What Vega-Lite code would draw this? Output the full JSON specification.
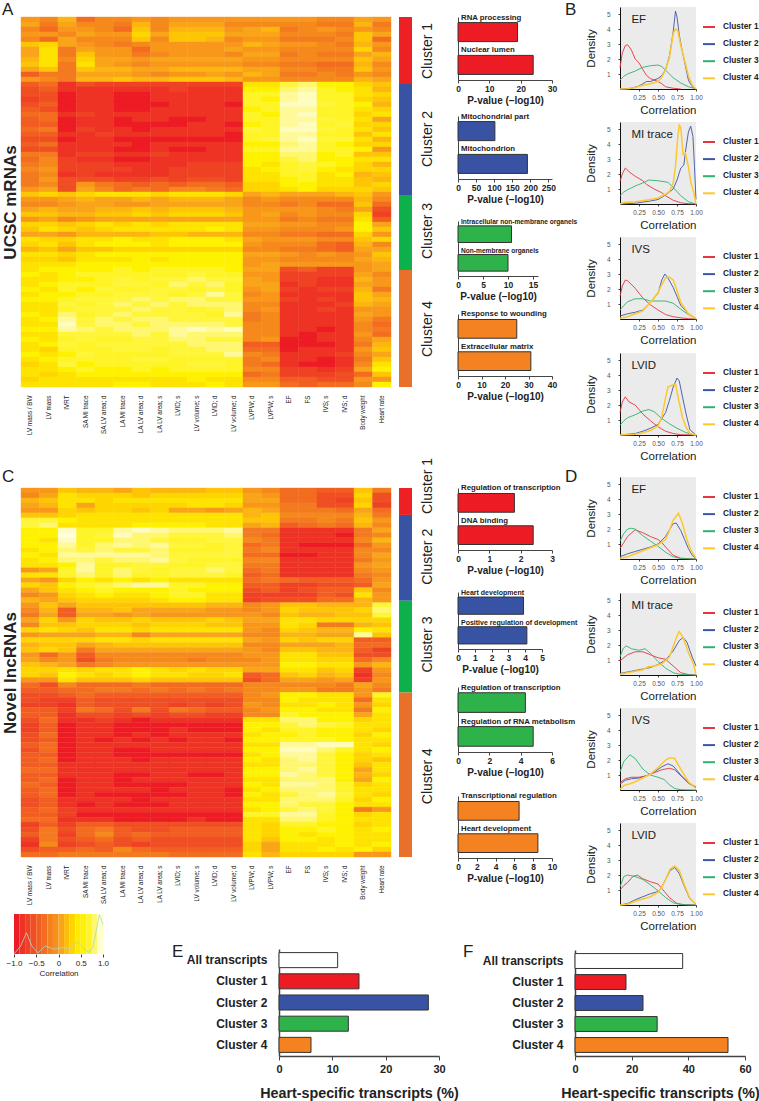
{"$schema":"https://vega.github.io/schema/vega-lite/v6.json","padding":0,"background":"white","bounds":"flush","spacing":0,
"config":{"font":"Liberation Sans","view":{"stroke":null},"axis":{"grid":false,"labelColor":"#222","titleColor":"#222","tickColor":"#444","domainColor":"#444","labelOverlap":false,"labelFlush":false},"axisX":{"labelFontWeight":"bold","labelFontSize":8.5,"titleFontWeight":"bold","titleFontSize":10,"tickSize":3,"labelPadding":1,"titlePadding":3,"labelAngle":0},"legend":{"orient":"none","legendX":82,"legendY":13,"symbolType":"stroke","symbolSize":144,"symbolStrokeWidth":2,"labelFontSize":8.3,"labelFontWeight":"bold","labelColor":"#222","labelOffset":7,"rowPadding":6.1,"padding":0},"title":{"fontWeight":"normal","fontSize":17,"anchor":"start","frame":"group","color":"#222","baseline":"top"}},
"datasets":{
"traits":[{"col":1,"trait":"LV mass / BW"},{"col":2,"trait":"LV mass"},{"col":3,"trait":"IVRT"},{"col":4,"trait":"SA MI trace"},{"col":5,"trait":"SA LV area; d"},{"col":6,"trait":"LA MI trace"},{"col":7,"trait":"LA LV area; d"},{"col":8,"trait":"LA LV area; s"},{"col":9,"trait":"LVID; s"},{"col":10,"trait":"LV volume; s"},{"col":11,"trait":"LVID; d"},{"col":12,"trait":"LV volume; d"},{"col":13,"trait":"LVPW; d"},{"col":14,"trait":"LVPW; s"},{"col":15,"trait":"EF"},{"col":16,"trait":"FS"},{"col":17,"trait":"IVS; s"},{"col":18,"trait":"IVS; d"},{"col":19,"trait":"Body weight"},{"col":20,"trait":"Heart rate"}],
"heatA":[
{"gene":1,"corr10":[-2,-3,0,-5,-3,-3,-2,-3,-2,-2,-2,-2,-2,-2,-2,-2,-3,-3,-1,-2]},{"gene":2,"corr10":[-1,-4,-1,-3,-3,-4,0,-3,-1,-1,-1,-3,-3,-3,-3,-3,-4,-4,0,-4]},{"gene":3,"corr10":[-3,-5,-2,-2,-3,-5,1,-3,0,0,0,-2,-1,0,-4,-3,-2,-3,-2,-3]},{"gene":4,"corr10":[-2,-2,-3,-1,-2,-2,2,-1,1,1,1,-1,-1,-1,-3,-3,-3,-4,1,-1]},{"gene":5,"corr10":[-3,-5,-1,-3,-3,-3,1,-3,1,1,0,-3,-2,-2,-4,-4,-4,-3,1,-5]},{"gene":6,"corr10":[1,2,-1,-2,-3,-4,-3,-2,-2,-2,-2,-2,0,-1,-2,-2,-3,-4,0,-2]},{"gene":7,"corr10":[-1,3,-4,-1,-2,-2,-5,-2,-2,-2,-2,-1,-2,-2,-3,-3,-3,-3,2,-3]},{"gene":8,"corr10":[-1,3,-4,1,-2,-2,-4,-3,-2,-2,-2,-3,-1,-1,-4,-3,-4,-4,-1,0]},{"gene":9,"corr10":[0,3,-3,2,-1,-1,-2,-1,-1,-1,-1,-1,-2,-2,-3,-3,-3,-3,1,-1]},{"gene":10,"corr10":[1,3,-4,3,-1,-2,-3,-2,-2,-2,-2,-2,-3,-3,-4,-4,-5,-5,0,-3]},{"gene":11,"corr10":[-1,1,-4,1,0,0,-1,-1,0,0,0,0,-1,-1,-3,-3,-4,-4,1,-2]},{"gene":12,"corr10":[-6,-4,-4,-1,-1,-1,-2,-3,-2,-2,-1,-2,0,-1,-4,-4,-3,-4,-2,-3]},{"gene":13,"corr10":[-2,-3,-4,0,0,1,0,0,1,1,1,0,-2,-2,-3,-3,-3,-3,0,-1]},
{"gene":14,"corr10":[-6,-5,-9,-7,-8,-8,-8,-8,-8,-8,-8,-8,3,3,6,7,4,4,2,1]},{"gene":15,"corr10":[-7,-6,-9,-9,-9,-9,-9,-9,-8,-9,-9,-9,4,4,7,8,5,4,3,0]},{"gene":16,"corr10":[-7,-7,-10,-9,-9,-10,-10,-9,-9,-9,-9,-9,5,5,8,9,5,5,3,2]},{"gene":17,"corr10":[-8,-7,-10,-9,-9,-10,-10,-9,-9,-9,-9,-9,5,4,8,9,5,5,2,1]},{"gene":18,"corr10":[-7,-6,-10,-9,-9,-10,-10,-10,-9,-9,-9,-10,5,5,9,9,6,5,4,0]},{"gene":19,"corr10":[-6,-7,-10,-9,-9,-10,-10,-9,-9,-9,-9,-9,4,5,8,8,5,5,3,2]},{"gene":20,"corr10":[-5,-5,-9,-8,-9,-9,-9,-9,-9,-9,-9,-9,5,4,8,9,5,5,2,3]},{"gene":21,"corr10":[-6,-5,-10,-9,-9,-10,-9,-9,-10,-10,-9,-9,5,5,8,8,6,5,3,-1]},{"gene":22,"corr10":[-6,-6,-10,-9,-9,-10,-10,-10,-10,-9,-9,-10,4,5,8,9,5,6,2,2]},{"gene":23,"corr10":[-5,-4,-10,-8,-9,-9,-10,-9,-9,-9,-9,-9,6,5,9,9,6,5,3,1]},{"gene":24,"corr10":[-6,-6,-9,-9,-8,-9,-9,-9,-9,-9,-9,-10,5,5,8,8,5,5,1,3]},{"gene":25,"corr10":[-7,-7,-10,-9,-9,-10,-10,-10,-10,-10,-10,-10,5,6,8,9,6,6,3,0]},{"gene":26,"corr10":[-6,-5,-9,-9,-9,-9,-10,-9,-9,-9,-9,-9,4,4,7,8,5,4,2,2]},{"gene":27,"corr10":[-7,-7,-9,-9,-9,-10,-10,-9,-10,-10,-9,-9,5,5,8,8,5,5,4,-2]},{"gene":28,"corr10":[-4,-4,-9,-8,-8,-9,-9,-8,-9,-9,-9,-9,4,4,7,7,4,5,1,1]},{"gene":29,"corr10":[-5,-3,-8,-9,-9,-10,-10,-9,-9,-9,-9,-9,4,4,6,7,4,4,3,3]},{"gene":30,"corr10":[-4,-3,-8,-8,-8,-9,-9,-9,-9,-8,-8,-8,4,3,5,6,5,4,2,0]},{"gene":31,"corr10":[-3,-2,-8,-8,-8,-8,-9,-9,-8,-8,-8,-8,3,4,5,6,4,3,2,2]},{"gene":32,"corr10":[-4,-3,-9,-8,-9,-9,-9,-9,-8,-8,-8,-8,3,3,5,5,3,4,0,1]},{"gene":33,"corr10":[-4,-2,-7,-7,-7,-8,-8,-7,-8,-7,-7,-8,3,3,4,5,3,3,1,0]},{"gene":34,"corr10":[-4,-3,-7,-2,-4,-5,-6,-5,-6,-5,-5,-6,2,2,4,4,3,3,1,2]},{"gene":35,"corr10":[-2,-1,-7,-1,-3,-5,-4,-5,-3,-3,-4,-5,2,2,3,4,2,2,2,1]},
{"gene":36,"corr10":[1,2,1,2,3,3,3,2,3,3,3,2,-1,0,-1,-1,-1,0,1,-2]},{"gene":37,"corr10":[-2,-2,-1,0,-1,-1,0,-1,0,0,0,-1,-3,-2,-3,-3,-3,-3,0,-3]},{"gene":38,"corr10":[-3,-3,-2,-1,-1,-2,-2,-1,-1,-1,-1,-1,-3,-3,-4,-3,-5,-5,1,-5]},{"gene":39,"corr10":[-1,0,-1,-1,0,0,1,0,1,1,1,0,-2,-2,-2,-2,-3,-4,-1,-7]},{"gene":40,"corr10":[1,1,0,0,1,1,2,1,2,2,2,1,-2,-1,-3,-2,-3,-3,2,-8]},{"gene":41,"corr10":[-2,-1,-3,-2,-1,-1,-1,-1,-1,-1,-1,-1,-2,-2,-4,-3,-4,-4,3,-6]},{"gene":42,"corr10":[2,2,1,2,3,2,3,2,3,3,3,3,-1,-1,-2,-2,-3,-3,4,-1]},{"gene":43,"corr10":[1,3,2,1,2,3,3,3,3,3,4,3,-2,-2,-3,-3,-3,-2,4,1]},{"gene":44,"corr10":[-1,-1,-2,0,0,0,0,1,1,0,0,0,-3,-3,-4,-4,-5,-5,2,-2]},{"gene":45,"corr10":[3,2,2,3,3,4,3,3,4,4,4,3,-1,-2,-2,-2,-3,-3,1,2]},{"gene":46,"corr10":[2,3,1,3,4,4,4,3,4,4,4,4,-2,-3,-3,-3,-5,-6,0,-3]},{"gene":47,"corr10":[0,1,-1,1,1,2,2,2,2,2,2,2,-3,-3,-4,-4,-5,-6,-1,-1]},{"gene":48,"corr10":[3,3,2,3,4,4,4,4,4,4,4,4,-1,-1,-2,-3,-2,-3,-2,1]},{"gene":49,"corr10":[2,2,1,3,3,3,4,3,4,4,4,4,-2,-2,-3,-3,-3,-3,-1,0]},{"gene":50,"corr10":[3,3,3,4,4,4,4,4,4,4,4,4,-2,-1,-2,-2,-2,-2,-2,-1]},
{"gene":51,"corr10":[3,4,4,4,4,5,4,5,5,5,5,4,-1,-1,-7,-6,-8,-8,-2,-1]},{"gene":52,"corr10":[4,3,4,5,5,5,5,5,5,6,5,5,-2,-2,-8,-8,-8,-8,-1,-3]},{"gene":53,"corr10":[3,3,4,4,5,6,5,6,6,7,6,6,-1,-2,-8,-8,-9,-9,0,-2]},{"gene":54,"corr10":[3,4,5,5,5,6,6,5,7,6,7,5,-1,-1,-9,-8,-9,-9,-1,-2]},{"gene":55,"corr10":[4,3,5,4,6,5,5,6,6,5,6,5,-2,-1,-8,-9,-8,-8,0,-4]},{"gene":56,"corr10":[3,4,4,5,5,6,6,6,5,6,8,6,-3,-2,-9,-9,-9,-9,1,-1]},{"gene":57,"corr10":[4,4,5,6,6,6,7,6,7,7,6,6,-2,-2,-8,-9,-8,-9,1,0]},{"gene":58,"corr10":[3,3,6,5,6,7,6,7,6,7,7,7,-3,-3,-9,-9,-9,-8,0,-1]},{"gene":59,"corr10":[3,3,5,6,6,6,7,6,6,5,6,7,-3,-2,-9,-9,-8,-9,-2,-2]},{"gene":60,"corr10":[4,3,7,5,6,7,6,6,6,6,5,8,-4,-3,-9,-9,-9,-9,-1,-2]},{"gene":61,"corr10":[3,4,8,6,7,6,7,7,6,6,6,6,-4,-3,-9,-9,-9,-9,-2,-4]},{"gene":62,"corr10":[3,3,9,6,7,7,6,7,7,7,7,6,-3,-3,-9,-9,-9,-9,-3,-5]},{"gene":63,"corr10":[4,4,8,7,6,7,7,7,8,9,8,9,-3,-3,-9,-9,-10,-9,-3,-4]},{"gene":64,"corr10":[3,3,6,6,6,6,7,6,8,7,7,7,-3,-3,-9,-10,-9,-9,-2,-5]},{"gene":65,"corr10":[4,3,5,6,5,5,6,6,7,7,6,6,-3,-2,-10,-10,-9,-9,-3,-1]},{"gene":66,"corr10":[3,4,6,5,6,6,6,6,6,7,7,7,-6,-6,-10,-10,-10,-9,-4,0]},{"gene":67,"corr10":[3,2,5,5,5,6,6,5,6,6,7,7,-5,-5,-10,-9,-9,-9,-2,1]},{"gene":68,"corr10":[4,3,4,6,5,5,5,5,6,6,6,8,-3,-4,-9,-9,-9,-8,-3,-1]},{"gene":69,"corr10":[3,4,5,5,5,5,6,6,5,5,5,5,-4,-3,-9,-9,-10,-9,-4,1]},{"gene":70,"corr10":[2,3,6,4,5,5,5,5,5,6,6,5,-4,-5,-9,-10,-10,-9,-3,3]},{"gene":71,"corr10":[3,3,4,5,4,4,5,4,5,5,5,5,-3,-3,-8,-8,-9,-8,-1,4]},{"gene":72,"corr10":[3,2,3,4,4,4,4,4,4,4,4,4,-5,-4,-8,-8,-8,-7,-5,1]},{"gene":73,"corr10":[2,3,3,3,3,3,3,3,3,4,3,3,-3,-3,-6,-6,-7,-7,-2,-2]},{"gene":74,"corr10":[3,3,3,3,3,4,4,3,3,3,4,3,-2,-2,-5,-6,-5,-5,-3,4]}],
"heatC":[
{"gene":1,"corr10":[-2,-2,1,0,0,-1,1,0,0,0,1,1,-2,-3,-5,-5,-6,-6,1,-4]},{"gene":2,"corr10":[-3,-1,3,2,2,2,1,2,2,2,2,2,-1,-2,-5,-5,-7,-7,2,-7]},{"gene":3,"corr10":[0,1,3,3,2,3,3,3,3,3,3,3,-1,-1,-5,-5,-7,-8,1,-7]},{"gene":4,"corr10":[-1,0,3,-1,2,2,2,2,2,3,3,2,-2,-2,-4,-4,-7,-7,2,-8]},{"gene":5,"corr10":[-2,-2,2,1,2,2,1,2,-1,-1,-2,-1,0,-1,-4,-4,-4,-5,-1,-5]},{"gene":6,"corr10":[1,1,2,3,3,3,3,3,3,3,3,3,0,1,-3,-3,-3,-3,0,-4]},{"gene":7,"corr10":[6,6,4,3,3,3,3,3,3,3,3,3,1,1,-4,-4,-3,-4,1,-2]},{"gene":8,"corr10":[6,7,3,3,3,3,4,4,4,4,3,3,-1,0,-6,-5,-4,-5,0,-3]},{"gene":9,"corr10":[4,4,9,5,5,8,9,8,7,7,7,8,-4,-4,-9,-9,-9,-9,-4,-1]},{"gene":10,"corr10":[4,4,10,5,6,9,7,7,6,6,6,7,-4,-5,-9,-9,-9,-10,-4,-3]},{"gene":11,"corr10":[4,3,9,5,5,7,7,6,5,5,6,6,-3,-4,-9,-9,-9,-9,-3,0]},{"gene":12,"corr10":[4,4,8,5,7,8,7,8,6,6,5,6,-5,-4,-9,-10,-10,-10,-5,-2]},{"gene":13,"corr10":[3,4,7,6,7,6,6,7,5,5,5,6,-4,-3,-9,-9,-9,-9,-3,-3]},{"gene":14,"corr10":[4,3,8,8,8,8,8,7,6,6,6,6,-5,-5,-10,-10,-9,-9,-3,-1]},{"gene":15,"corr10":[3,4,7,7,6,7,7,8,6,5,5,5,-3,-3,-9,-9,-9,-9,-4,-2]},{"gene":16,"corr10":[3,3,4,8,5,5,6,6,5,5,6,6,-4,-4,-9,-9,-9,-9,-2,-1]},{"gene":17,"corr10":[-2,-1,5,8,5,7,6,5,6,6,7,6,-5,-4,-9,-9,-9,-9,-3,-2]},{"gene":18,"corr10":[3,3,5,7,5,7,5,5,6,6,6,5,-6,-5,-9,-9,-9,-9,-4,-3]},{"gene":19,"corr10":[-1,-2,2,4,3,4,3,4,3,3,3,3,-5,-4,-5,-6,-6,-6,-5,-2]},{"gene":20,"corr10":[2,1,4,5,6,7,8,8,5,5,4,4,-6,-6,-8,-8,-7,-7,-6,-1]},{"gene":21,"corr10":[-1,1,3,4,5,4,4,4,5,4,4,4,-7,-6,-8,-7,-6,-6,1,-3]},{"gene":22,"corr10":[-3,-2,2,3,4,3,3,4,5,5,3,3,-8,-8,-8,-8,-6,-7,3,-2]},{"gene":23,"corr10":[0,-1,1,2,2,2,2,3,4,4,3,3,-8,-7,-7,-7,-5,-5,0,-2]},
{"gene":24,"corr10":[-2,1,-1,1,1,1,1,1,1,1,0,0,-3,-2,1,1,0,0,0,6]},{"gene":25,"corr10":[-3,0,-6,0,0,1,-1,-1,-1,-1,-2,-2,-3,-2,2,1,1,1,2,7]},{"gene":26,"corr10":[-4,-1,-6,-1,-1,-2,-1,-2,-2,-2,-2,-2,-2,-3,1,0,0,1,1,6]},{"gene":27,"corr10":[-1,2,-2,2,1,1,2,1,1,1,2,1,-1,-1,3,3,2,2,2,2]},{"gene":28,"corr10":[-3,1,1,2,2,2,1,2,2,2,1,1,-2,-2,3,2,-4,-4,0,1]},{"gene":29,"corr10":[2,3,2,1,3,3,2,3,3,3,3,3,-2,-3,2,1,0,0,4,3]},{"gene":30,"corr10":[-2,-1,-1,-1,0,0,-3,-1,-1,-1,-1,-1,-3,-3,0,0,-1,-1,8,1]},{"gene":31,"corr10":[2,2,2,2,3,3,2,3,3,3,3,3,-1,-2,2,1,2,2,-6,-6]},{"gene":32,"corr10":[0,1,1,-1,0,1,1,1,1,1,1,1,-3,-3,-1,-1,-1,0,-5,-5]},{"gene":33,"corr10":[1,2,1,-4,-1,-1,-1,-1,-1,-1,-1,-1,-2,-3,1,1,0,0,-6,-8]},{"gene":34,"corr10":[-2,-5,-2,-6,-3,-3,-3,-3,-3,-3,-3,-3,-2,-2,3,3,1,1,-7,-7]},{"gene":35,"corr10":[-1,-3,-2,-7,-4,-3,-3,-3,-3,-4,-3,-3,-3,-2,3,3,2,2,-5,-3]},{"gene":36,"corr10":[1,0,-1,-4,-3,-2,-2,-2,-2,-2,-2,-2,-2,-2,4,4,3,3,-2,0]},{"gene":37,"corr10":[2,2,3,2,3,3,4,3,2,3,2,2,-1,-1,3,3,1,2,-8,-2]},{"gene":38,"corr10":[2,1,4,3,2,3,4,3,3,2,2,3,-6,-5,1,2,0,1,-9,-3]},{"gene":39,"corr10":[-2,-2,3,1,1,1,2,1,1,1,1,1,-7,-5,-1,-1,-2,-1,-8,-2]},{"gene":40,"corr10":[-5,-7,-3,-5,-5,-5,-4,-5,-5,-5,-5,-5,-3,-3,-3,-3,-3,-4,-1,-3]},{"gene":41,"corr10":[-6,-6,-5,-5,-4,-4,-5,-4,-5,-4,-5,-4,-3,-3,-2,-2,-4,-4,-2,-4]},
{"gene":42,"corr10":[-7,-7,-6,-5,-6,-6,-6,-6,-6,-6,-6,-6,-3,-2,4,4,3,3,-2,5]},{"gene":43,"corr10":[-7,-8,-8,-6,-7,-7,-7,-7,-7,-7,-7,-7,-3,-3,4,3,3,3,-5,3]},{"gene":44,"corr10":[-8,-8,-9,-6,-7,-7,-7,-7,-8,-7,-8,-7,-2,-3,3,3,4,3,-2,2]},{"gene":45,"corr10":[-6,-6,-8,-4,-5,-7,-4,-7,-4,-5,-6,-6,-3,-2,4,4,3,3,-4,4]},{"gene":46,"corr10":[-6,-6,-9,-7,-7,-8,-7,-8,-7,-7,-8,-8,-3,-3,5,4,4,4,-1,3]},{"gene":47,"corr10":[-7,-5,-9,-9,-8,-9,-10,-9,-9,-9,-9,-9,3,3,7,7,4,4,2,3]},{"gene":48,"corr10":[-8,-6,-10,-9,-9,-10,-10,-10,-10,-10,-10,-10,4,4,6,7,6,5,3,3]},{"gene":49,"corr10":[-8,-6,-10,-9,-9,-10,-10,-10,-9,-10,-10,-10,4,3,5,5,4,4,3,2]},{"gene":50,"corr10":[-7,-5,-10,-9,-9,-10,-9,-10,-9,-9,-9,-9,3,4,4,5,4,4,2,4]},{"gene":51,"corr10":[-7,-6,-10,-9,-10,-9,-10,-9,-10,-9,-9,-10,4,4,5,5,5,4,3,3]},{"gene":52,"corr10":[-6,-5,-10,-9,-9,-9,-9,-9,-9,-9,-9,-9,3,3,8,8,9,9,3,2]},{"gene":53,"corr10":[-7,-5,-10,-9,-9,-10,-10,-9,-9,-9,-9,-9,4,4,9,9,7,5,3,4]},{"gene":54,"corr10":[-6,-6,-10,-9,-9,-10,-10,-10,-10,-10,-10,-10,3,4,8,8,6,4,2,3]},{"gene":55,"corr10":[-6,-5,-10,-9,-9,-9,-10,-9,-9,-9,-9,-9,4,3,7,8,6,4,2,1]},{"gene":56,"corr10":[-6,-6,-9,-9,-9,-9,-9,-9,-9,-9,-9,-9,3,3,7,7,6,4,1,3]},{"gene":57,"corr10":[-5,-5,-9,-9,-9,-9,-9,-9,-9,-9,-9,-9,4,4,7,8,6,4,-1,3]},{"gene":58,"corr10":[-6,-6,-9,-9,-9,-10,-10,-9,-9,-10,-10,-9,4,4,8,7,6,4,0,2]},{"gene":59,"corr10":[-6,-5,-10,-9,-9,-10,-9,-9,-9,-9,-9,-9,3,3,7,7,7,4,-1,4]},{"gene":60,"corr10":[-5,-6,-10,-9,-9,-10,-10,-10,-10,-9,-9,-9,4,3,8,8,7,5,2,3]},{"gene":61,"corr10":[-6,-5,-10,-9,-9,-9,-9,-10,-9,-9,-9,-10,3,4,7,7,7,5,3,3]},{"gene":62,"corr10":[-6,-5,-10,-9,-10,-10,-10,-10,-10,-9,-9,-10,4,3,6,7,8,6,3,2]},{"gene":63,"corr10":[-7,-6,-9,-9,-9,-9,-10,-9,-9,-9,-9,-9,3,3,7,7,7,5,2,4]},{"gene":64,"corr10":[-7,-6,-9,-10,-9,-10,-10,-10,-9,-9,-9,-9,4,4,7,6,6,4,3,3]},{"gene":65,"corr10":[-6,-5,-8,-9,-9,-9,-9,-9,-9,-9,-9,-9,3,4,6,7,6,4,-4,-2]},{"gene":66,"corr10":[-6,-6,-8,-10,-10,-10,-10,-10,-10,-10,-10,-10,5,5,8,8,5,4,2,3]},{"gene":67,"corr10":[-5,-5,-9,-9,-9,-10,-10,-10,-10,-9,-10,-10,3,3,7,7,5,4,3,3]},{"gene":68,"corr10":[-8,-6,-8,-6,-6,-7,-7,-7,-7,-7,-7,-7,3,2,5,5,4,4,2,3]},{"gene":69,"corr10":[-7,-4,-7,-5,-4,-6,-7,-7,-6,-6,-6,-6,3,2,4,4,5,4,3,4]},{"gene":70,"corr10":[-6,-4,-8,-5,-3,-6,-5,-6,-6,-6,-6,-6,3,2,4,3,4,4,3,3]},{"gene":71,"corr10":[-8,-4,-7,-6,-5,-7,-6,-7,-7,-7,-7,-7,3,1,4,4,3,4,3,3]},{"gene":72,"corr10":[-9,-3,-8,-7,-6,-7,-8,-7,-7,-7,-7,-7,2,-1,3,3,3,4,3,4]},{"gene":73,"corr10":[-7,-6,-6,-5,-6,-3,-5,-6,-6,-6,-6,-6,2,-1,3,3,4,3,4,2]},{"gene":74,"corr10":[-5,-5,-4,-4,-4,-4,-4,-4,-5,-5,-5,-5,3,0,2,2,2,2,-2,-2]}],
"density":[
{"p":"BEF","c":1,"x":0,"y":1.4},{"p":"BEF","c":1,"x":0.03,"y":2.4},{"p":"BEF","c":1,"x":0.07,"y":2.9},{"p":"BEF","c":1,"x":0.1,"y":2.95},{"p":"BEF","c":1,"x":0.15,"y":2.6},{"p":"BEF","c":1,"x":0.2,"y":2},{"p":"BEF","c":1,"x":0.25,"y":1.75},{"p":"BEF","c":1,"x":0.3,"y":1.3},{"p":"BEF","c":1,"x":0.35,"y":0.9},{"p":"BEF","c":1,"x":0.4,"y":0.7},{"p":"BEF","c":1,"x":0.5,"y":0.5},{"p":"BEF","c":1,"x":0.55,"y":0.35},{"p":"BEF","c":1,"x":0.6,"y":0.15},{"p":"BEF","c":1,"x":0.7,"y":0.05},{"p":"BEF","c":1,"x":0.8,"y":0},
{"p":"BEF","c":2,"x":0,"y":0},{"p":"BEF","c":2,"x":0.15,"y":0.05},{"p":"BEF","c":2,"x":0.25,"y":0.2},{"p":"BEF","c":2,"x":0.3,"y":0.35},{"p":"BEF","c":2,"x":0.35,"y":0.5},{"p":"BEF","c":2,"x":0.4,"y":0.5},{"p":"BEF","c":2,"x":0.45,"y":0.6},{"p":"BEF","c":2,"x":0.5,"y":0.7},{"p":"BEF","c":2,"x":0.55,"y":0.9},{"p":"BEF","c":2,"x":0.6,"y":1.3},{"p":"BEF","c":2,"x":0.65,"y":2.2},{"p":"BEF","c":2,"x":0.7,"y":3.8},{"p":"BEF","c":2,"x":0.73,"y":5.2},{"p":"BEF","c":2,"x":0.75,"y":4.8},{"p":"BEF","c":2,"x":0.78,"y":3.6},{"p":"BEF","c":2,"x":0.82,"y":2.5},{"p":"BEF","c":2,"x":0.85,"y":1.8},{"p":"BEF","c":2,"x":0.9,"y":0.6},{"p":"BEF","c":2,"x":0.95,"y":0.15},{"p":"BEF","c":2,"x":1,"y":0},
{"p":"BEF","c":3,"x":0,"y":0.6},{"p":"BEF","c":3,"x":0.05,"y":0.85},{"p":"BEF","c":3,"x":0.1,"y":1},{"p":"BEF","c":3,"x":0.2,"y":1.2},{"p":"BEF","c":3,"x":0.3,"y":1.45},{"p":"BEF","c":3,"x":0.4,"y":1.55},{"p":"BEF","c":3,"x":0.5,"y":1.6},{"p":"BEF","c":3,"x":0.55,"y":1.5},{"p":"BEF","c":3,"x":0.6,"y":1.25},{"p":"BEF","c":3,"x":0.65,"y":1},{"p":"BEF","c":3,"x":0.7,"y":0.75},{"p":"BEF","c":3,"x":0.8,"y":0.4},{"p":"BEF","c":3,"x":0.9,"y":0.15},{"p":"BEF","c":3,"x":1,"y":0.02},
{"p":"BEF","c":4,"x":0,"y":0},{"p":"BEF","c":4,"x":0.1,"y":0.02},{"p":"BEF","c":4,"x":0.2,"y":0.1},{"p":"BEF","c":4,"x":0.3,"y":0.25},{"p":"BEF","c":4,"x":0.4,"y":0.35},{"p":"BEF","c":4,"x":0.5,"y":0.5},{"p":"BEF","c":4,"x":0.55,"y":0.8},{"p":"BEF","c":4,"x":0.6,"y":1.3},{"p":"BEF","c":4,"x":0.65,"y":2.1},{"p":"BEF","c":4,"x":0.7,"y":3.7},{"p":"BEF","c":4,"x":0.73,"y":4},{"p":"BEF","c":4,"x":0.76,"y":3.9},{"p":"BEF","c":4,"x":0.8,"y":2.9},{"p":"BEF","c":4,"x":0.85,"y":1.9},{"p":"BEF","c":4,"x":0.9,"y":0.9},{"p":"BEF","c":4,"x":0.95,"y":0.25},{"p":"BEF","c":4,"x":1,"y":0},
{"p":"BMI","c":1,"x":0,"y":1.5},{"p":"BMI","c":1,"x":0.03,"y":2},{"p":"BMI","c":1,"x":0.07,"y":2.4},{"p":"BMI","c":1,"x":0.12,"y":2.15},{"p":"BMI","c":1,"x":0.2,"y":1.85},{"p":"BMI","c":1,"x":0.3,"y":1.55},{"p":"BMI","c":1,"x":0.35,"y":1.3},{"p":"BMI","c":1,"x":0.45,"y":1},{"p":"BMI","c":1,"x":0.55,"y":0.75},{"p":"BMI","c":1,"x":0.6,"y":0.55},{"p":"BMI","c":1,"x":0.7,"y":0.25},{"p":"BMI","c":1,"x":0.8,"y":0.08},{"p":"BMI","c":1,"x":0.9,"y":0.02},{"p":"BMI","c":1,"x":1,"y":0},
{"p":"BMI","c":2,"x":0,"y":0},{"p":"BMI","c":2,"x":0.2,"y":0.05},{"p":"BMI","c":2,"x":0.4,"y":0.2},{"p":"BMI","c":2,"x":0.5,"y":0.3},{"p":"BMI","c":2,"x":0.6,"y":0.6},{"p":"BMI","c":2,"x":0.65,"y":0.8},{"p":"BMI","c":2,"x":0.7,"y":1},{"p":"BMI","c":2,"x":0.75,"y":1.6},{"p":"BMI","c":2,"x":0.8,"y":2.4},{"p":"BMI","c":2,"x":0.84,"y":2.6},{"p":"BMI","c":2,"x":0.87,"y":3.8},{"p":"BMI","c":2,"x":0.9,"y":4.8},{"p":"BMI","c":2,"x":0.93,"y":5.2},{"p":"BMI","c":2,"x":0.96,"y":4.5},{"p":"BMI","c":2,"x":0.98,"y":2.5},{"p":"BMI","c":2,"x":1,"y":0.3},
{"p":"BMI","c":3,"x":0,"y":0.55},{"p":"BMI","c":3,"x":0.05,"y":0.8},{"p":"BMI","c":3,"x":0.1,"y":0.95},{"p":"BMI","c":3,"x":0.2,"y":1.2},{"p":"BMI","c":3,"x":0.3,"y":1.4},{"p":"BMI","c":3,"x":0.38,"y":1.6},{"p":"BMI","c":3,"x":0.5,"y":1.55},{"p":"BMI","c":3,"x":0.63,"y":1.45},{"p":"BMI","c":3,"x":0.7,"y":1.1},{"p":"BMI","c":3,"x":0.8,"y":0.55},{"p":"BMI","c":3,"x":0.9,"y":0.15},{"p":"BMI","c":3,"x":1,"y":0},
{"p":"BMI","c":4,"x":0,"y":0},{"p":"BMI","c":4,"x":0.05,"y":0.1},{"p":"BMI","c":4,"x":0.2,"y":0.15},{"p":"BMI","c":4,"x":0.4,"y":0.3},{"p":"BMI","c":4,"x":0.5,"y":0.4},{"p":"BMI","c":4,"x":0.6,"y":0.65},{"p":"BMI","c":4,"x":0.65,"y":0.85},{"p":"BMI","c":4,"x":0.7,"y":1.4},{"p":"BMI","c":4,"x":0.73,"y":2.5},{"p":"BMI","c":4,"x":0.76,"y":4.5},{"p":"BMI","c":4,"x":0.78,"y":5.25},{"p":"BMI","c":4,"x":0.8,"y":5.1},{"p":"BMI","c":4,"x":0.83,"y":3.3},{"p":"BMI","c":4,"x":0.86,"y":3.4},{"p":"BMI","c":4,"x":0.9,"y":2.5},{"p":"BMI","c":4,"x":0.93,"y":1.5},{"p":"BMI","c":4,"x":0.97,"y":0.8},{"p":"BMI","c":4,"x":1,"y":0},
{"p":"BIV","c":1,"x":0,"y":1.5},{"p":"BIV","c":1,"x":0.03,"y":2.2},{"p":"BIV","c":1,"x":0.07,"y":2.6},{"p":"BIV","c":1,"x":0.1,"y":2.55},{"p":"BIV","c":1,"x":0.2,"y":2.05},{"p":"BIV","c":1,"x":0.3,"y":1.4},{"p":"BIV","c":1,"x":0.4,"y":0.95},{"p":"BIV","c":1,"x":0.5,"y":0.6},{"p":"BIV","c":1,"x":0.6,"y":0.3},{"p":"BIV","c":1,"x":0.7,"y":0.15},{"p":"BIV","c":1,"x":0.8,"y":0.08},{"p":"BIV","c":1,"x":0.9,"y":0.02},{"p":"BIV","c":1,"x":1,"y":0},
{"p":"BIV","c":2,"x":0,"y":0.2},{"p":"BIV","c":2,"x":0.1,"y":0.35},{"p":"BIV","c":2,"x":0.2,"y":0.45},{"p":"BIV","c":2,"x":0.3,"y":0.6},{"p":"BIV","c":2,"x":0.4,"y":1.1},{"p":"BIV","c":2,"x":0.5,"y":1.7},{"p":"BIV","c":2,"x":0.55,"y":2.6},{"p":"BIV","c":2,"x":0.59,"y":3},{"p":"BIV","c":2,"x":0.63,"y":2.75},{"p":"BIV","c":2,"x":0.7,"y":2.1},{"p":"BIV","c":2,"x":0.75,"y":1.5},{"p":"BIV","c":2,"x":0.8,"y":0.9},{"p":"BIV","c":2,"x":0.9,"y":0.35},{"p":"BIV","c":2,"x":1,"y":0.02},
{"p":"BIV","c":3,"x":0,"y":0.6},{"p":"BIV","c":3,"x":0.05,"y":0.9},{"p":"BIV","c":3,"x":0.1,"y":1.15},{"p":"BIV","c":3,"x":0.2,"y":1.35},{"p":"BIV","c":3,"x":0.3,"y":1.35},{"p":"BIV","c":3,"x":0.4,"y":1.2},{"p":"BIV","c":3,"x":0.5,"y":1.2},{"p":"BIV","c":3,"x":0.6,"y":1.2},{"p":"BIV","c":3,"x":0.7,"y":1.05},{"p":"BIV","c":3,"x":0.8,"y":0.65},{"p":"BIV","c":3,"x":0.9,"y":0.3},{"p":"BIV","c":3,"x":1,"y":0.02},
{"p":"BIV","c":4,"x":0,"y":0.05},{"p":"BIV","c":4,"x":0.1,"y":0.15},{"p":"BIV","c":4,"x":0.2,"y":0.35},{"p":"BIV","c":4,"x":0.3,"y":0.55},{"p":"BIV","c":4,"x":0.4,"y":1.1},{"p":"BIV","c":4,"x":0.5,"y":1.75},{"p":"BIV","c":4,"x":0.55,"y":2.3},{"p":"BIV","c":4,"x":0.6,"y":2.75},{"p":"BIV","c":4,"x":0.65,"y":2.8},{"p":"BIV","c":4,"x":0.7,"y":2.6},{"p":"BIV","c":4,"x":0.75,"y":1.9},{"p":"BIV","c":4,"x":0.8,"y":1.1},{"p":"BIV","c":4,"x":0.9,"y":0.35},{"p":"BIV","c":4,"x":1,"y":0.02},
{"p":"BLV","c":1,"x":0,"y":1.5},{"p":"BLV","c":1,"x":0.03,"y":2.2},{"p":"BLV","c":1,"x":0.07,"y":2.55},{"p":"BLV","c":1,"x":0.12,"y":2.2},{"p":"BLV","c":1,"x":0.2,"y":2},{"p":"BLV","c":1,"x":0.3,"y":1.4},{"p":"BLV","c":1,"x":0.4,"y":0.95},{"p":"BLV","c":1,"x":0.5,"y":0.55},{"p":"BLV","c":1,"x":0.6,"y":0.25},{"p":"BLV","c":1,"x":0.7,"y":0.1},{"p":"BLV","c":1,"x":0.8,"y":0.02},{"p":"BLV","c":1,"x":1,"y":0},
{"p":"BLV","c":2,"x":0,"y":0},{"p":"BLV","c":2,"x":0.2,"y":0.1},{"p":"BLV","c":2,"x":0.3,"y":0.25},{"p":"BLV","c":2,"x":0.4,"y":0.45},{"p":"BLV","c":2,"x":0.5,"y":0.7},{"p":"BLV","c":2,"x":0.55,"y":1.1},{"p":"BLV","c":2,"x":0.6,"y":1.5},{"p":"BLV","c":2,"x":0.65,"y":2.3},{"p":"BLV","c":2,"x":0.7,"y":3.2},{"p":"BLV","c":2,"x":0.75,"y":3.8},{"p":"BLV","c":2,"x":0.78,"y":3.6},{"p":"BLV","c":2,"x":0.82,"y":2.6},{"p":"BLV","c":2,"x":0.87,"y":1.4},{"p":"BLV","c":2,"x":0.92,"y":0.35},{"p":"BLV","c":2,"x":1,"y":0},
{"p":"BLV","c":3,"x":0,"y":0.65},{"p":"BLV","c":3,"x":0.05,"y":0.95},{"p":"BLV","c":3,"x":0.1,"y":1.15},{"p":"BLV","c":3,"x":0.2,"y":1.35},{"p":"BLV","c":3,"x":0.3,"y":1.6},{"p":"BLV","c":3,"x":0.38,"y":1.7},{"p":"BLV","c":3,"x":0.45,"y":1.55},{"p":"BLV","c":3,"x":0.55,"y":1.1},{"p":"BLV","c":3,"x":0.65,"y":0.75},{"p":"BLV","c":3,"x":0.75,"y":0.45},{"p":"BLV","c":3,"x":0.85,"y":0.2},{"p":"BLV","c":3,"x":0.95,"y":0.02},{"p":"BLV","c":3,"x":1,"y":0},
{"p":"BLV","c":4,"x":0,"y":0},{"p":"BLV","c":4,"x":0.2,"y":0.05},{"p":"BLV","c":4,"x":0.3,"y":0.15},{"p":"BLV","c":4,"x":0.4,"y":0.3},{"p":"BLV","c":4,"x":0.5,"y":0.6},{"p":"BLV","c":4,"x":0.55,"y":1.2},{"p":"BLV","c":4,"x":0.6,"y":2.5},{"p":"BLV","c":4,"x":0.63,"y":3.2},{"p":"BLV","c":4,"x":0.7,"y":3.35},{"p":"BLV","c":4,"x":0.73,"y":3.4},{"p":"BLV","c":4,"x":0.77,"y":2.4},{"p":"BLV","c":4,"x":0.82,"y":1.2},{"p":"BLV","c":4,"x":0.87,"y":0.5},{"p":"BLV","c":4,"x":0.92,"y":0.1},{"p":"BLV","c":4,"x":1,"y":0},
{"p":"DEF","c":1,"x":0,"y":0.7},{"p":"DEF","c":1,"x":0.05,"y":1.1},{"p":"DEF","c":1,"x":0.1,"y":1.5},{"p":"DEF","c":1,"x":0.2,"y":1.95},{"p":"DEF","c":1,"x":0.3,"y":1.75},{"p":"DEF","c":1,"x":0.4,"y":1.5},{"p":"DEF","c":1,"x":0.5,"y":1.3},{"p":"DEF","c":1,"x":0.55,"y":1.1},{"p":"DEF","c":1,"x":0.6,"y":0.8},{"p":"DEF","c":1,"x":0.7,"y":0.25},{"p":"DEF","c":1,"x":0.8,"y":0.05},{"p":"DEF","c":1,"x":1,"y":0},
{"p":"DEF","c":2,"x":0,"y":0.15},{"p":"DEF","c":2,"x":0.1,"y":0.35},{"p":"DEF","c":2,"x":0.2,"y":0.5},{"p":"DEF","c":2,"x":0.3,"y":0.65},{"p":"DEF","c":2,"x":0.4,"y":0.8},{"p":"DEF","c":2,"x":0.5,"y":1},{"p":"DEF","c":2,"x":0.6,"y":1.5},{"p":"DEF","c":2,"x":0.65,"y":1.95},{"p":"DEF","c":2,"x":0.7,"y":2.35},{"p":"DEF","c":2,"x":0.74,"y":2.4},{"p":"DEF","c":2,"x":0.8,"y":1.9},{"p":"DEF","c":2,"x":0.85,"y":1.3},{"p":"DEF","c":2,"x":0.9,"y":0.7},{"p":"DEF","c":2,"x":0.95,"y":0.25},{"p":"DEF","c":2,"x":1,"y":0.02},
{"p":"DEF","c":3,"x":0,"y":1.2},{"p":"DEF","c":3,"x":0.05,"y":1.7},{"p":"DEF","c":3,"x":0.1,"y":2},{"p":"DEF","c":3,"x":0.15,"y":2.05},{"p":"DEF","c":3,"x":0.2,"y":2},{"p":"DEF","c":3,"x":0.3,"y":1.55},{"p":"DEF","c":3,"x":0.4,"y":1.2},{"p":"DEF","c":3,"x":0.5,"y":0.85},{"p":"DEF","c":3,"x":0.6,"y":0.45},{"p":"DEF","c":3,"x":0.7,"y":0.15},{"p":"DEF","c":3,"x":0.8,"y":0.03},{"p":"DEF","c":3,"x":1,"y":0},
{"p":"DEF","c":4,"x":0,"y":0.05},{"p":"DEF","c":4,"x":0.1,"y":0.15},{"p":"DEF","c":4,"x":0.2,"y":0.35},{"p":"DEF","c":4,"x":0.3,"y":0.55},{"p":"DEF","c":4,"x":0.4,"y":0.75},{"p":"DEF","c":4,"x":0.5,"y":0.95},{"p":"DEF","c":4,"x":0.6,"y":1.3},{"p":"DEF","c":4,"x":0.65,"y":1.9},{"p":"DEF","c":4,"x":0.7,"y":2.6},{"p":"DEF","c":4,"x":0.77,"y":3.05},{"p":"DEF","c":4,"x":0.82,"y":2.4},{"p":"DEF","c":4,"x":0.88,"y":1.3},{"p":"DEF","c":4,"x":0.93,"y":0.6},{"p":"DEF","c":4,"x":1,"y":0.05},
{"p":"DMI","c":1,"x":0,"y":0.95},{"p":"DMI","c":1,"x":0.1,"y":1.35},{"p":"DMI","c":1,"x":0.2,"y":1.55},{"p":"DMI","c":1,"x":0.3,"y":1.55},{"p":"DMI","c":1,"x":0.4,"y":1.35},{"p":"DMI","c":1,"x":0.5,"y":1.15},{"p":"DMI","c":1,"x":0.6,"y":1.05},{"p":"DMI","c":1,"x":0.7,"y":0.6},{"p":"DMI","c":1,"x":0.8,"y":0.15},{"p":"DMI","c":1,"x":0.9,"y":0.03},{"p":"DMI","c":1,"x":1,"y":0},
{"p":"DMI","c":2,"x":0,"y":0.1},{"p":"DMI","c":2,"x":0.1,"y":0.2},{"p":"DMI","c":2,"x":0.2,"y":0.3},{"p":"DMI","c":2,"x":0.3,"y":0.4},{"p":"DMI","c":2,"x":0.4,"y":0.5},{"p":"DMI","c":2,"x":0.5,"y":0.7},{"p":"DMI","c":2,"x":0.6,"y":1},{"p":"DMI","c":2,"x":0.7,"y":1.6},{"p":"DMI","c":2,"x":0.78,"y":2.3},{"p":"DMI","c":2,"x":0.83,"y":2.5},{"p":"DMI","c":2,"x":0.88,"y":2.2},{"p":"DMI","c":2,"x":0.95,"y":1.2},{"p":"DMI","c":2,"x":1,"y":0.6},
{"p":"DMI","c":3,"x":0,"y":1.2},{"p":"DMI","c":3,"x":0.04,"y":1.75},{"p":"DMI","c":3,"x":0.08,"y":1.95},{"p":"DMI","c":3,"x":0.15,"y":1.75},{"p":"DMI","c":3,"x":0.25,"y":1.65},{"p":"DMI","c":3,"x":0.33,"y":1.75},{"p":"DMI","c":3,"x":0.4,"y":1.45},{"p":"DMI","c":3,"x":0.5,"y":0.9},{"p":"DMI","c":3,"x":0.6,"y":0.45},{"p":"DMI","c":3,"x":0.7,"y":0.15},{"p":"DMI","c":3,"x":0.8,"y":0.03},{"p":"DMI","c":3,"x":1,"y":0},
{"p":"DMI","c":4,"x":0,"y":0.05},{"p":"DMI","c":4,"x":0.1,"y":0.15},{"p":"DMI","c":4,"x":0.2,"y":0.25},{"p":"DMI","c":4,"x":0.3,"y":0.35},{"p":"DMI","c":4,"x":0.37,"y":0.55},{"p":"DMI","c":4,"x":0.45,"y":0.6},{"p":"DMI","c":4,"x":0.55,"y":0.75},{"p":"DMI","c":4,"x":0.65,"y":1.2},{"p":"DMI","c":4,"x":0.7,"y":1.9},{"p":"DMI","c":4,"x":0.75,"y":2.6},{"p":"DMI","c":4,"x":0.78,"y":2.9},{"p":"DMI","c":4,"x":0.83,"y":2.5},{"p":"DMI","c":4,"x":0.9,"y":1.5},{"p":"DMI","c":4,"x":0.97,"y":0.7},{"p":"DMI","c":4,"x":1,"y":0.02},
{"p":"DIV","c":1,"x":0,"y":0.5},{"p":"DIV","c":1,"x":0.07,"y":0.75},{"p":"DIV","c":1,"x":0.15,"y":0.85},{"p":"DIV","c":1,"x":0.25,"y":0.85},{"p":"DIV","c":1,"x":0.35,"y":0.95},{"p":"DIV","c":1,"x":0.45,"y":1.15},{"p":"DIV","c":1,"x":0.55,"y":1.35},{"p":"DIV","c":1,"x":0.65,"y":1.45},{"p":"DIV","c":1,"x":0.72,"y":1.35},{"p":"DIV","c":1,"x":0.8,"y":0.95},{"p":"DIV","c":1,"x":0.9,"y":0.5},{"p":"DIV","c":1,"x":1,"y":0.2},
{"p":"DIV","c":2,"x":0,"y":0.4},{"p":"DIV","c":2,"x":0.07,"y":0.65},{"p":"DIV","c":2,"x":0.15,"y":0.75},{"p":"DIV","c":2,"x":0.25,"y":0.8},{"p":"DIV","c":2,"x":0.35,"y":0.95},{"p":"DIV","c":2,"x":0.45,"y":1.2},{"p":"DIV","c":2,"x":0.55,"y":1.55},{"p":"DIV","c":2,"x":0.63,"y":1.75},{"p":"DIV","c":2,"x":0.7,"y":1.6},{"p":"DIV","c":2,"x":0.8,"y":1},{"p":"DIV","c":2,"x":0.9,"y":0.45},{"p":"DIV","c":2,"x":1,"y":0.15},
{"p":"DIV","c":3,"x":0,"y":1.2},{"p":"DIV","c":3,"x":0.05,"y":1.9},{"p":"DIV","c":3,"x":0.13,"y":2.35},{"p":"DIV","c":3,"x":0.2,"y":2.1},{"p":"DIV","c":3,"x":0.3,"y":1.4},{"p":"DIV","c":3,"x":0.4,"y":1},{"p":"DIV","c":3,"x":0.5,"y":0.85},{"p":"DIV","c":3,"x":0.58,"y":0.7},{"p":"DIV","c":3,"x":0.65,"y":0.35},{"p":"DIV","c":3,"x":0.72,"y":0.1},{"p":"DIV","c":3,"x":0.8,"y":0.02},{"p":"DIV","c":3,"x":1,"y":0},
{"p":"DIV","c":4,"x":0,"y":0.05},{"p":"DIV","c":4,"x":0.05,"y":0.3},{"p":"DIV","c":4,"x":0.12,"y":0.4},{"p":"DIV","c":4,"x":0.2,"y":0.55},{"p":"DIV","c":4,"x":0.3,"y":0.8},{"p":"DIV","c":4,"x":0.4,"y":1.05},{"p":"DIV","c":4,"x":0.5,"y":1.5},{"p":"DIV","c":4,"x":0.6,"y":2},{"p":"DIV","c":4,"x":0.65,"y":2.15},{"p":"DIV","c":4,"x":0.72,"y":2.1},{"p":"DIV","c":4,"x":0.8,"y":1.4},{"p":"DIV","c":4,"x":0.9,"y":0.55},{"p":"DIV","c":4,"x":1,"y":0.1},
{"p":"DLV","c":1,"x":0,"y":1},{"p":"DLV","c":1,"x":0.05,"y":1.3},{"p":"DLV","c":1,"x":0.1,"y":1.5},{"p":"DLV","c":1,"x":0.17,"y":1.9},{"p":"DLV","c":1,"x":0.23,"y":2},{"p":"DLV","c":1,"x":0.3,"y":1.75},{"p":"DLV","c":1,"x":0.4,"y":1.55},{"p":"DLV","c":1,"x":0.5,"y":1.4},{"p":"DLV","c":1,"x":0.55,"y":1.1},{"p":"DLV","c":1,"x":0.65,"y":0.5},{"p":"DLV","c":1,"x":0.75,"y":0.1},{"p":"DLV","c":1,"x":0.85,"y":0.02},{"p":"DLV","c":1,"x":1,"y":0},
{"p":"DLV","c":2,"x":0,"y":0},{"p":"DLV","c":2,"x":0.1,"y":0.1},{"p":"DLV","c":2,"x":0.2,"y":0.35},{"p":"DLV","c":2,"x":0.3,"y":0.55},{"p":"DLV","c":2,"x":0.4,"y":0.75},{"p":"DLV","c":2,"x":0.5,"y":0.9},{"p":"DLV","c":2,"x":0.55,"y":1.2},{"p":"DLV","c":2,"x":0.6,"y":1.7},{"p":"DLV","c":2,"x":0.66,"y":2.3},{"p":"DLV","c":2,"x":0.72,"y":2.5},{"p":"DLV","c":2,"x":0.78,"y":2.1},{"p":"DLV","c":2,"x":0.85,"y":1.2},{"p":"DLV","c":2,"x":0.92,"y":0.4},{"p":"DLV","c":2,"x":1,"y":0.05},
{"p":"DLV","c":3,"x":0,"y":1.2},{"p":"DLV","c":3,"x":0.05,"y":1.9},{"p":"DLV","c":3,"x":0.1,"y":2},{"p":"DLV","c":3,"x":0.2,"y":1.9},{"p":"DLV","c":3,"x":0.3,"y":1.7},{"p":"DLV","c":3,"x":0.4,"y":1.35},{"p":"DLV","c":3,"x":0.5,"y":0.95},{"p":"DLV","c":3,"x":0.6,"y":0.5},{"p":"DLV","c":3,"x":0.7,"y":0.15},{"p":"DLV","c":3,"x":0.8,"y":0.03},{"p":"DLV","c":3,"x":1,"y":0},
{"p":"DLV","c":4,"x":0,"y":0},{"p":"DLV","c":4,"x":0.1,"y":0.05},{"p":"DLV","c":4,"x":0.2,"y":0.25},{"p":"DLV","c":4,"x":0.3,"y":0.4},{"p":"DLV","c":4,"x":0.4,"y":0.55},{"p":"DLV","c":4,"x":0.5,"y":0.85},{"p":"DLV","c":4,"x":0.55,"y":1.2},{"p":"DLV","c":4,"x":0.6,"y":1.7},{"p":"DLV","c":4,"x":0.66,"y":2.4},{"p":"DLV","c":4,"x":0.72,"y":2.6},{"p":"DLV","c":4,"x":0.78,"y":2.3},{"p":"DLV","c":4,"x":0.85,"y":1.3},{"p":"DLV","c":4,"x":0.92,"y":0.45},{"p":"DLV","c":4,"x":1,"y":0.05}]
},
"vconcat":[
{"bounds":"flush","spacing":0,"hconcat":[
{"width":21,"height":1,"data":{"values":[]},"mark":"point","encoding":{}},
{"bounds":"flush","spacing":0,"vconcat":[
{"width":370,"height":16,"data":{"values":[]},"mark":"point","encoding":{}},
{"width":370,"height":370,"title":{"text":"A","dx":-19,"offset":-2},"data":{"name":"heatA"},"transform":[{"flatten":["corr10"]},{"window":[{"op":"row_number","as":"col"}],"groupby":["gene"]},{"lookup":"col","from":{"data":{"name":"traits"},"key":"col","fields":["trait"]}}],"mark":{"type":"rect","strokeWidth":0.4},"encoding":{"x":{"field":"trait","type":"nominal","sort":{"field":"col","op":"min"},"scale":{"paddingInner":0,"paddingOuter":0},"axis":{"title":null,"ticks":false,"domain":false,"labelAngle":270,"labelAlign":"right","labelBaseline":"middle","labelFontSize":6.3,"labelFontWeight":"normal","labelPadding":8,"labelLimit":0}},"y":{"field":"gene","type":"ordinal","scale":{"paddingInner":0,"paddingOuter":0},"axis":{"title":"UCSC mRNAs","labels":false,"ticks":false,"domain":false,"titleFontSize":17,"titleFontWeight":"bold","titlePadding":2}},"fill":{"field":"corr10","type":"quantitative","legend":null,"scale":{"domain":[-10,-7,-4,-1,2,4,6,8,10],"range":["#ed1c24","#f04e23","#f47a20","#f9a51a","#ffd500","#fff200","#fff53a","#fff99a","#ffffe0"]}},"stroke":{"field":"corr10","type":"quantitative","legend":null,"scale":{"domain":[-10,-7,-4,-1,2,4,6,8,10],"range":["#ed1c24","#f04e23","#f47a20","#f9a51a","#ffd500","#fff200","#fff53a","#fff99a","#ffffe0"]}}}},
{"width":370,"height":101,"data":{"values":[]},"mark":"point","encoding":{}},
{"width":370,"height":369,"title":{"text":"C","dx":-19,"offset":2},"data":{"name":"heatC"},"transform":[{"flatten":["corr10"]},{"window":[{"op":"row_number","as":"col"}],"groupby":["gene"]},{"lookup":"col","from":{"data":{"name":"traits"},"key":"col","fields":["trait"]}}],"mark":{"type":"rect","strokeWidth":0.4},"encoding":{"x":{"field":"trait","type":"nominal","sort":{"field":"col","op":"min"},"scale":{"paddingInner":0,"paddingOuter":0},"axis":{"title":null,"ticks":false,"domain":false,"labelAngle":270,"labelAlign":"right","labelBaseline":"middle","labelFontSize":6.3,"labelFontWeight":"normal","labelPadding":8,"labelLimit":0}},"y":{"field":"gene","type":"ordinal","scale":{"paddingInner":0,"paddingOuter":0},"axis":{"title":"Novel lncRNAs","labels":false,"ticks":false,"domain":false,"titleFontSize":17,"titleFontWeight":"bold","titlePadding":2}},"fill":{"field":"corr10","type":"quantitative","legend":null,"scale":{"domain":[-10,-7,-4,-1,2,4,6,8,10],"range":["#ed1c24","#f04e23","#f47a20","#f9a51a","#ffd500","#fff200","#fff53a","#fff99a","#ffffe0"]}},"stroke":{"field":"corr10","type":"quantitative","legend":null,"scale":{"domain":[-10,-7,-4,-1,2,4,6,8,10],"range":["#ed1c24","#f04e23","#f47a20","#f9a51a","#ffd500","#fff200","#fff53a","#fff99a","#ffffe0"]}}}}
]},
{"width":378,"height":1,"data":{"values":[]},"mark":"point","encoding":{}},
{"bounds":"flush","spacing":0,"vconcat":[
{"width":13,"height":16,"data":{"values":[]},"mark":"point","encoding":{}},
{"width":13,"height":370,"data":{"values":[{"cluster":"Cluster 1","first":0,"last":13.4,"labelAt":6.8},{"cluster":"Cluster 2","first":13.4,"last":35.6,"labelAt":24.4},{"cluster":"Cluster 3","first":35.6,"last":50.6,"labelAt":42.8},{"cluster":"Cluster 4","first":50.6,"last":74,"labelAt":62.4}]},"layer":[{"mark":"rect","encoding":{"y":{"field":"first","type":"quantitative","axis":null,"scale":{"domain":[74,0],"nice":false,"zero":false}},"y2":{"field":"last"},"fill":{"field":"cluster","type":"nominal","legend":null,"scale":{"range":["#ed2024","#3953a4","#0db14b","#e8702a"]}}}},{"mark":{"type":"text","angle":270,"align":"center","fontSize":14,"dy":22.5,"baseline":"middle","color":"#222"},"encoding":{"y":{"field":"labelAt","type":"quantitative","axis":null},"text":{"field":"cluster"}}}]},
{"width":13,"height":101,"data":{"values":[]},"mark":"point","encoding":{}},
{"width":13,"height":369,"data":{"values":[{"cluster":"Cluster 1","first":0,"last":5.4,"labelAt":-0.4},{"cluster":"Cluster 2","first":5.4,"last":22.6,"labelAt":13.8},{"cluster":"Cluster 3","first":22.6,"last":41,"labelAt":31.4},{"cluster":"Cluster 4","first":41,"last":74,"labelAt":57.8}]},"layer":[{"mark":"rect","encoding":{"y":{"field":"first","type":"quantitative","axis":null,"scale":{"domain":[74,0],"nice":false,"zero":false}},"y2":{"field":"last"},"fill":{"field":"cluster","type":"nominal","legend":null,"scale":{"range":["#ed2024","#3953a4","#0db14b","#e8702a"]}}}},{"mark":{"type":"text","angle":270,"align":"center","fontSize":14,"dy":22.5,"baseline":"middle","color":"#222"},"encoding":{"y":{"field":"labelAt","type":"quantitative","axis":null},"text":{"field":"cluster"}}}]}
]},
{"width":58.3,"height":1,"data":{"values":[]},"mark":"point","encoding":{}},
{"bounds":"flush","spacing":0,"vconcat":[
{"width":94,"height":16,"data":{"values":[]},"mark":"point","encoding":{}},
{"width":94,"height":63,"resolve":{"axis":{"x":"independent","y":"independent"}},"data":{"values":[{"term":"RNA processing","p":19},{"term":"Nuclear lumen","p":24}]},"encoding":{"y":{"field":"term","type":"nominal","sort":null,"scale":{"paddingInner":0.42,"paddingOuter":0.17},"axis":{"title":null,"labels":false,"ticks":false}}},"layer":[{"mark":{"type":"bar","fill":"#ed1c24","stroke":"#333","strokeWidth":1},"encoding":{"x":{"field":"p","type":"quantitative","scale":{"domain":[0,30]},"axis":{"title":"P-value (–log10)","values":[0,10,20,30],"labelOverlap":false,"labelFlush":false}}}},{"mark":{"type":"text","align":"left","baseline":"bottom","dx":3,"dy":-1,"fontSize":7.8,"fontWeight":"bold","color":"#222"},"encoding":{"x":{"datum":0,"axis":null},"y":{"field":"term","type":"nominal","sort":null,"bandPosition":0,"axis":null},"text":{"field":"term"}}}]},
{"width":94,"height":36,"data":{"values":[]},"mark":"point","encoding":{}},
{"width":94,"height":63,"resolve":{"axis":{"x":"independent","y":"independent"}},"data":{"values":[{"term":"Mitochondrial part","p":102},{"term":"Mitochondrion","p":192}]},"encoding":{"y":{"field":"term","type":"nominal","sort":null,"scale":{"paddingInner":0.42,"paddingOuter":0.17},"axis":{"title":null,"labels":false,"ticks":false}}},"layer":[{"mark":{"type":"bar","fill":"#3953a4","stroke":"#333","strokeWidth":1},"encoding":{"x":{"field":"p","type":"quantitative","scale":{"domain":[0,250]},"axis":{"title":"P-value (–log10)","values":[0,50,100,150,200,250],"labelOverlap":false,"labelFlush":false}}}},{"mark":{"type":"text","align":"left","baseline":"bottom","dx":3,"dy":-1,"fontSize":7.8,"fontWeight":"bold","color":"#222"},"encoding":{"x":{"datum":0,"axis":null},"y":{"field":"term","type":"nominal","sort":null,"bandPosition":0,"axis":null},"text":{"field":"term"}}}]},
{"width":94,"height":42,"data":{"values":[]},"mark":"point","encoding":{}},
{"width":80,"height":55,"resolve":{"axis":{"x":"independent","y":"independent"}},"data":{"values":[{"term":"Intracellular non-membrane organels","p":10.7},{"term":"Non-membrane organels","p":10}]},"encoding":{"y":{"field":"term","type":"nominal","sort":null,"scale":{"paddingInner":0.42,"paddingOuter":0.17},"axis":{"title":null,"labels":false,"ticks":false}}},"layer":[{"mark":{"type":"bar","fill":"#2db34a","stroke":"#333","strokeWidth":1},"encoding":{"x":{"field":"p","type":"quantitative","scale":{"domain":[0,15]},"axis":{"title":"P-value (–log10)","values":[0,5,10,15],"labelOverlap":false,"labelFlush":false}}}},{"mark":{"type":"text","align":"left","baseline":"bottom","dx":3,"dy":-1,"fontSize":6.6,"fontWeight":"bold","color":"#222"},"encoding":{"x":{"datum":0,"axis":null},"y":{"field":"term","type":"nominal","sort":null,"bandPosition":0,"axis":null},"text":{"field":"term"}}}]},
{"width":94,"height":38,"data":{"values":[]},"mark":"point","encoding":{}},
{"width":94,"height":62,"resolve":{"axis":{"x":"independent","y":"independent"}},"data":{"values":[{"term":"Response to wounding","p":25},{"term":"Extracellular matrix","p":31}]},"encoding":{"y":{"field":"term","type":"nominal","sort":null,"scale":{"paddingInner":0.42,"paddingOuter":0.17},"axis":{"title":null,"labels":false,"ticks":false}}},"layer":[{"mark":{"type":"bar","fill":"#f58220","stroke":"#333","strokeWidth":1},"encoding":{"x":{"field":"p","type":"quantitative","scale":{"domain":[0,40]},"axis":{"title":"P-value (–log10)","values":[0,10,20,30,40],"labelOverlap":false,"labelFlush":false}}}},{"mark":{"type":"text","align":"left","baseline":"bottom","dx":3,"dy":-1,"fontSize":7.8,"fontWeight":"bold","color":"#222"},"encoding":{"x":{"datum":0,"axis":null},"y":{"field":"term","type":"nominal","sort":null,"bandPosition":0,"axis":null},"text":{"field":"term"}}}]},
{"width":94,"height":112,"data":{"values":[]},"mark":"point","encoding":{}},
{"width":94,"height":62,"resolve":{"axis":{"x":"independent","y":"independent"}},"data":{"values":[{"term":"Regulation of transcription","p":1.8},{"term":"DNA binding","p":2.4}]},"encoding":{"y":{"field":"term","type":"nominal","sort":null,"scale":{"paddingInner":0.42,"paddingOuter":0.17},"axis":{"title":null,"labels":false,"ticks":false}}},"layer":[{"mark":{"type":"bar","fill":"#ed1c24","stroke":"#333","strokeWidth":1},"encoding":{"x":{"field":"p","type":"quantitative","scale":{"domain":[0,3]},"axis":{"title":"P-value (–log10)","values":[0,1,2,3],"labelOverlap":false,"labelFlush":false}}}},{"mark":{"type":"text","align":"left","baseline":"bottom","dx":3,"dy":-1,"fontSize":7.8,"fontWeight":"bold","color":"#222"},"encoding":{"x":{"datum":0,"axis":null},"y":{"field":"term","type":"nominal","sort":null,"bandPosition":0,"axis":null},"text":{"field":"term"}}}]},
{"width":94,"height":42,"data":{"values":[]},"mark":"point","encoding":{}},
{"width":84,"height":57,"resolve":{"axis":{"x":"independent","y":"independent"}},"data":{"values":[{"term":"Heart development","p":3.9},{"term":"Positive regulation of development","p":4.1}]},"encoding":{"y":{"field":"term","type":"nominal","sort":null,"scale":{"paddingInner":0.42,"paddingOuter":0.17},"axis":{"title":null,"labels":false,"ticks":false}}},"layer":[{"mark":{"type":"bar","fill":"#3953a4","stroke":"#333","strokeWidth":1},"encoding":{"x":{"field":"p","type":"quantitative","scale":{"domain":[0,5]},"axis":{"title":"P-value (–log10)","values":[0,1,2,3,4,5],"labelOverlap":false,"labelFlush":false}}}},{"mark":{"type":"text","align":"left","baseline":"bottom","dx":3,"dy":-1,"fontSize":7,"fontWeight":"bold","color":"#222"},"encoding":{"x":{"datum":0,"axis":null},"y":{"field":"term","type":"nominal","sort":null,"bandPosition":0,"axis":null},"text":{"field":"term"}}}]},
{"width":94,"height":38,"data":{"values":[]},"mark":"point","encoding":{}},
{"width":94,"height":65,"resolve":{"axis":{"x":"independent","y":"independent"}},"data":{"values":[{"term":"Regulation of transcription","p":4.3},{"term":"Regulation of RNA metabolism","p":4.8}]},"encoding":{"y":{"field":"term","type":"nominal","sort":null,"scale":{"paddingInner":0.42,"paddingOuter":0.17},"axis":{"title":null,"labels":false,"ticks":false}}},"layer":[{"mark":{"type":"bar","fill":"#2db34a","stroke":"#333","strokeWidth":1},"encoding":{"x":{"field":"p","type":"quantitative","scale":{"domain":[0,6]},"axis":{"title":"P-value (–log10)","values":[0,2,4,6],"labelOverlap":false,"labelFlush":false}}}},{"mark":{"type":"text","align":"left","baseline":"bottom","dx":3,"dy":-1,"fontSize":7.8,"fontWeight":"bold","color":"#222"},"encoding":{"x":{"datum":0,"axis":null},"y":{"field":"term","type":"nominal","sort":null,"bandPosition":0,"axis":null},"text":{"field":"term"}}}]},
{"width":94,"height":44,"data":{"values":[]},"mark":"point","encoding":{}},
{"width":94,"height":62,"resolve":{"axis":{"x":"independent","y":"independent"}},"data":{"values":[{"term":"Transcriptional regulation","p":6.5},{"term":"Heart development","p":8.5}]},"encoding":{"y":{"field":"term","type":"nominal","sort":null,"scale":{"paddingInner":0.42,"paddingOuter":0.17},"axis":{"title":null,"labels":false,"ticks":false}}},"layer":[{"mark":{"type":"bar","fill":"#f58220","stroke":"#333","strokeWidth":1},"encoding":{"x":{"field":"p","type":"quantitative","scale":{"domain":[0,10]},"axis":{"title":"P-value (–log10)","values":[0,2,4,6,8,10],"labelOverlap":false,"labelFlush":false}}}},{"mark":{"type":"text","align":"left","baseline":"bottom","dx":3,"dy":-1,"fontSize":7.8,"fontWeight":"bold","color":"#222"},"encoding":{"x":{"datum":0,"axis":null},"y":{"field":"term","type":"nominal","sort":null,"bandPosition":0,"axis":null},"text":{"field":"term"}}}]}
]},
{"width":161.4,"height":1,"data":{"values":[]},"mark":"point","encoding":{}},
{"bounds":"flush","spacing":0,"resolve":{"scale":{"color":"independent"},"legend":{"color":"independent"}},"vconcat":[
{"width":76,"height":6,"data":{"values":[]},"mark":"point","encoding":{}},
{"width":76,"height":82,"resolve":{"axis":{"x":"independent","y":"independent"}},"view":{"fill":"#ebebeb"},"title":{"text":"B","dx":-55,"offset":-12},"layer":[{"data":{"name":"density"},"transform":[{"filter":"datum.p==='BEF'"}],"mark":{"type":"line"},"encoding":{"strokeWidth":{"condition":{"test":"datum.c===4","value":1.5},"value":0.9},"x":{"field":"x","type":"quantitative","scale":{"domain":[0,1],"nice":false},"axis":{"title":"Correlation","values":[0.25,0.5,0.75,1],"format":".2f","labelOverlap":false,"labelFlush":false,"titleFontSize":11.5,"titleFontWeight":"normal","titleAnchor":"end","labelFontSize":6.5,"labelFontWeight":"normal","labelColor":"#555","tickSize":2,"labelPadding":3,"titlePadding":4,"domainColor":"#111"}},"y":{"field":"y","type":"quantitative","scale":{"domain":[0,5.47],"nice":false},"axis":{"title":"Density","values":[1,2,3,4,5],"labelOverlap":false,"labelFlush":false,"titleFontSize":11.5,"titleFontWeight":"normal","labelFontSize":6.5,"labelColor":"#555","tickSize":2,"labelPadding":8,"titlePadding":10,"domainColor":"#111"}},"color":{"field":"c","type":"nominal","scale":{"domain":[1,2,3,4],"range":["#e8343f","#3e56a6","#2db36b","#fdc82f"]},"legend":{"title":null,"labelExpr":"'Cluster '+datum.value"}}}},{"data":{"values":[{"panel":"EF"}]},"mark":{"type":"text","align":"left","fontSize":11.5,"color":"#222"},"encoding":{"x":{"datum":0.15,"axis":null},"y":{"datum":4.6,"axis":null},"text":{"field":"panel"}}}]},
{"width":76,"height":33,"data":{"values":[]},"mark":"point","encoding":{}},
{"width":76,"height":82,"resolve":{"axis":{"x":"independent","y":"independent"}},"view":{"fill":"#ebebeb"},"layer":[{"data":{"name":"density"},"transform":[{"filter":"datum.p==='BMI'"}],"mark":{"type":"line"},"encoding":{"strokeWidth":{"condition":{"test":"datum.c===4","value":1.5},"value":0.9},"x":{"field":"x","type":"quantitative","scale":{"domain":[0,1],"nice":false},"axis":{"title":"Correlation","values":[0.25,0.5,0.75,1],"format":".2f","labelOverlap":false,"labelFlush":false,"titleFontSize":11.5,"titleFontWeight":"normal","titleAnchor":"end","labelFontSize":6.5,"labelFontWeight":"normal","labelColor":"#555","tickSize":2,"labelPadding":3,"titlePadding":4,"domainColor":"#111"}},"y":{"field":"y","type":"quantitative","scale":{"domain":[0,5.47],"nice":false},"axis":{"title":"Density","values":[1,2,3,4,5],"labelOverlap":false,"labelFlush":false,"titleFontSize":11.5,"titleFontWeight":"normal","labelFontSize":6.5,"labelColor":"#555","tickSize":2,"labelPadding":8,"titlePadding":10,"domainColor":"#111"}},"color":{"field":"c","type":"nominal","scale":{"domain":[1,2,3,4],"range":["#e8343f","#3e56a6","#2db36b","#fdc82f"]},"legend":{"title":null,"labelExpr":"'Cluster '+datum.value"}}}},{"data":{"values":[{"panel":"MI trace"}]},"mark":{"type":"text","align":"left","fontSize":11.5,"color":"#222"},"encoding":{"x":{"datum":0.15,"axis":null},"y":{"datum":4.6,"axis":null},"text":{"field":"panel"}}}]},
{"width":76,"height":33,"data":{"values":[]},"mark":"point","encoding":{}},
{"width":76,"height":82,"resolve":{"axis":{"x":"independent","y":"independent"}},"view":{"fill":"#ebebeb"},"layer":[{"data":{"name":"density"},"transform":[{"filter":"datum.p==='BIV'"}],"mark":{"type":"line"},"encoding":{"strokeWidth":{"condition":{"test":"datum.c===4","value":1.5},"value":0.9},"x":{"field":"x","type":"quantitative","scale":{"domain":[0,1],"nice":false},"axis":{"title":"Correlation","values":[0.25,0.5,0.75,1],"format":".2f","labelOverlap":false,"labelFlush":false,"titleFontSize":11.5,"titleFontWeight":"normal","titleAnchor":"end","labelFontSize":6.5,"labelFontWeight":"normal","labelColor":"#555","tickSize":2,"labelPadding":3,"titlePadding":4,"domainColor":"#111"}},"y":{"field":"y","type":"quantitative","scale":{"domain":[0,5.47],"nice":false},"axis":{"title":"Density","values":[1,2,3,4,5],"labelOverlap":false,"labelFlush":false,"titleFontSize":11.5,"titleFontWeight":"normal","labelFontSize":6.5,"labelColor":"#555","tickSize":2,"labelPadding":8,"titlePadding":10,"domainColor":"#111"}},"color":{"field":"c","type":"nominal","scale":{"domain":[1,2,3,4],"range":["#e8343f","#3e56a6","#2db36b","#fdc82f"]},"legend":{"title":null,"labelExpr":"'Cluster '+datum.value"}}}},{"data":{"values":[{"panel":"IVS"}]},"mark":{"type":"text","align":"left","fontSize":11.5,"color":"#222"},"encoding":{"x":{"datum":0.15,"axis":null},"y":{"datum":4.6,"axis":null},"text":{"field":"panel"}}}]},
{"width":76,"height":34,"data":{"values":[]},"mark":"point","encoding":{}},
{"width":76,"height":82,"resolve":{"axis":{"x":"independent","y":"independent"}},"view":{"fill":"#ebebeb"},"layer":[{"data":{"name":"density"},"transform":[{"filter":"datum.p==='BLV'"}],"mark":{"type":"line"},"encoding":{"strokeWidth":{"condition":{"test":"datum.c===4","value":1.5},"value":0.9},"x":{"field":"x","type":"quantitative","scale":{"domain":[0,1],"nice":false},"axis":{"title":"Correlation","values":[0.25,0.5,0.75,1],"format":".2f","labelOverlap":false,"labelFlush":false,"titleFontSize":11.5,"titleFontWeight":"normal","titleAnchor":"end","labelFontSize":6.5,"labelFontWeight":"normal","labelColor":"#555","tickSize":2,"labelPadding":3,"titlePadding":4,"domainColor":"#111"}},"y":{"field":"y","type":"quantitative","scale":{"domain":[0,5.47],"nice":false},"axis":{"title":"Density","values":[1,2,3,4,5],"labelOverlap":false,"labelFlush":false,"titleFontSize":11.5,"titleFontWeight":"normal","labelFontSize":6.5,"labelColor":"#555","tickSize":2,"labelPadding":8,"titlePadding":10,"domainColor":"#111"}},"color":{"field":"c","type":"nominal","scale":{"domain":[1,2,3,4],"range":["#e8343f","#3e56a6","#2db36b","#fdc82f"]},"legend":{"title":null,"labelExpr":"'Cluster '+datum.value"}}}},{"data":{"values":[{"panel":"LVID"}]},"mark":{"type":"text","align":"left","fontSize":11.5,"color":"#222"},"encoding":{"x":{"datum":0.15,"axis":null},"y":{"datum":4.6,"axis":null},"text":{"field":"panel"}}}]},
{"width":76,"height":42,"data":{"values":[]},"mark":"point","encoding":{}},
{"width":76,"height":82,"resolve":{"axis":{"x":"independent","y":"independent"}},"view":{"fill":"#ebebeb"},"title":{"text":"D","dx":-55,"offset":-9},"layer":[{"data":{"name":"density"},"transform":[{"filter":"datum.p==='DEF'"}],"mark":{"type":"line"},"encoding":{"strokeWidth":{"condition":{"test":"datum.c===4","value":1.5},"value":0.9},"x":{"field":"x","type":"quantitative","scale":{"domain":[0,1],"nice":false},"axis":{"title":"Correlation","values":[0.25,0.5,0.75,1],"format":".2f","labelOverlap":false,"labelFlush":false,"titleFontSize":11.5,"titleFontWeight":"normal","titleAnchor":"end","labelFontSize":6.5,"labelFontWeight":"normal","labelColor":"#555","tickSize":2,"labelPadding":3,"titlePadding":4,"domainColor":"#111"}},"y":{"field":"y","type":"quantitative","scale":{"domain":[0,5.47],"nice":false},"axis":{"title":"Density","values":[1,2,3,4,5],"labelOverlap":false,"labelFlush":false,"titleFontSize":11.5,"titleFontWeight":"normal","labelFontSize":6.5,"labelColor":"#555","tickSize":2,"labelPadding":8,"titlePadding":10,"domainColor":"#111"}},"color":{"field":"c","type":"nominal","scale":{"domain":[1,2,3,4],"range":["#e8343f","#3e56a6","#2db36b","#fdc82f"]},"legend":{"title":null,"labelExpr":"'Cluster '+datum.value"}}}},{"data":{"values":[{"panel":"EF"}]},"mark":{"type":"text","align":"left","fontSize":11.5,"color":"#222"},"encoding":{"x":{"datum":0.15,"axis":null},"y":{"datum":4.6,"axis":null},"text":{"field":"panel"}}}]},
{"width":76,"height":34,"data":{"values":[]},"mark":"point","encoding":{}},
{"width":76,"height":82,"resolve":{"axis":{"x":"independent","y":"independent"}},"view":{"fill":"#ebebeb"},"layer":[{"data":{"name":"density"},"transform":[{"filter":"datum.p==='DMI'"}],"mark":{"type":"line"},"encoding":{"strokeWidth":{"condition":{"test":"datum.c===4","value":1.5},"value":0.9},"x":{"field":"x","type":"quantitative","scale":{"domain":[0,1],"nice":false},"axis":{"title":"Correlation","values":[0.25,0.5,0.75,1],"format":".2f","labelOverlap":false,"labelFlush":false,"titleFontSize":11.5,"titleFontWeight":"normal","titleAnchor":"end","labelFontSize":6.5,"labelFontWeight":"normal","labelColor":"#555","tickSize":2,"labelPadding":3,"titlePadding":4,"domainColor":"#111"}},"y":{"field":"y","type":"quantitative","scale":{"domain":[0,5.47],"nice":false},"axis":{"title":"Density","values":[1,2,3,4,5],"labelOverlap":false,"labelFlush":false,"titleFontSize":11.5,"titleFontWeight":"normal","labelFontSize":6.5,"labelColor":"#555","tickSize":2,"labelPadding":8,"titlePadding":10,"domainColor":"#111"}},"color":{"field":"c","type":"nominal","scale":{"domain":[1,2,3,4],"range":["#e8343f","#3e56a6","#2db36b","#fdc82f"]},"legend":{"title":null,"labelExpr":"'Cluster '+datum.value"}}}},{"data":{"values":[{"panel":"MI trace"}]},"mark":{"type":"text","align":"left","fontSize":11.5,"color":"#222"},"encoding":{"x":{"datum":0.15,"axis":null},"y":{"datum":4.6,"axis":null},"text":{"field":"panel"}}}]},
{"width":76,"height":33,"data":{"values":[]},"mark":"point","encoding":{}},
{"width":76,"height":82,"resolve":{"axis":{"x":"independent","y":"independent"}},"view":{"fill":"#ebebeb"},"layer":[{"data":{"name":"density"},"transform":[{"filter":"datum.p==='DIV'"}],"mark":{"type":"line"},"encoding":{"strokeWidth":{"condition":{"test":"datum.c===4","value":1.5},"value":0.9},"x":{"field":"x","type":"quantitative","scale":{"domain":[0,1],"nice":false},"axis":{"title":"Correlation","values":[0.25,0.5,0.75,1],"format":".2f","labelOverlap":false,"labelFlush":false,"titleFontSize":11.5,"titleFontWeight":"normal","titleAnchor":"end","labelFontSize":6.5,"labelFontWeight":"normal","labelColor":"#555","tickSize":2,"labelPadding":3,"titlePadding":4,"domainColor":"#111"}},"y":{"field":"y","type":"quantitative","scale":{"domain":[0,5.47],"nice":false},"axis":{"title":"Density","values":[1,2,3,4,5],"labelOverlap":false,"labelFlush":false,"titleFontSize":11.5,"titleFontWeight":"normal","labelFontSize":6.5,"labelColor":"#555","tickSize":2,"labelPadding":8,"titlePadding":10,"domainColor":"#111"}},"color":{"field":"c","type":"nominal","scale":{"domain":[1,2,3,4],"range":["#e8343f","#3e56a6","#2db36b","#fdc82f"]},"legend":{"title":null,"labelExpr":"'Cluster '+datum.value"}}}},{"data":{"values":[{"panel":"IVS"}]},"mark":{"type":"text","align":"left","fontSize":11.5,"color":"#222"},"encoding":{"x":{"datum":0.15,"axis":null},"y":{"datum":4.6,"axis":null},"text":{"field":"panel"}}}]},
{"width":76,"height":33,"data":{"values":[]},"mark":"point","encoding":{}},
{"width":76,"height":82,"resolve":{"axis":{"x":"independent","y":"independent"}},"view":{"fill":"#ebebeb"},"layer":[{"data":{"name":"density"},"transform":[{"filter":"datum.p==='DLV'"}],"mark":{"type":"line"},"encoding":{"strokeWidth":{"condition":{"test":"datum.c===4","value":1.5},"value":0.9},"x":{"field":"x","type":"quantitative","scale":{"domain":[0,1],"nice":false},"axis":{"title":"Correlation","values":[0.25,0.5,0.75,1],"format":".2f","labelOverlap":false,"labelFlush":false,"titleFontSize":11.5,"titleFontWeight":"normal","titleAnchor":"end","labelFontSize":6.5,"labelFontWeight":"normal","labelColor":"#555","tickSize":2,"labelPadding":3,"titlePadding":4,"domainColor":"#111"}},"y":{"field":"y","type":"quantitative","scale":{"domain":[0,5.47],"nice":false},"axis":{"title":"Density","values":[1,2,3,4,5],"labelOverlap":false,"labelFlush":false,"titleFontSize":11.5,"titleFontWeight":"normal","labelFontSize":6.5,"labelColor":"#555","tickSize":2,"labelPadding":8,"titlePadding":10,"domainColor":"#111"}},"color":{"field":"c","type":"nominal","scale":{"domain":[1,2,3,4],"range":["#e8343f","#3e56a6","#2db36b","#fdc82f"]},"legend":{"title":null,"labelExpr":"'Cluster '+datum.value"}}}},{"data":{"values":[{"panel":"LVID"}]},"mark":{"type":"text","align":"left","fontSize":11.5,"color":"#222"},"encoding":{"x":{"datum":0.15,"axis":null},"y":{"datum":4.6,"axis":null},"text":{"field":"panel"}}}]}
]}
]},
{"width":1,"height":900,"data":{"values":[]},"mark":"point","encoding":{}},
{"bounds":"flush","spacing":0,"hconcat":[
{"width":14,"height":1,"data":{"values":[]},"mark":"point","encoding":{}},
{"bounds":"flush","spacing":0,"vconcat":[
{"width":89,"height":13,"data":{"values":[]},"mark":"point","encoding":{}},
{"width":89,"height":40,"resolve":{"axis":{"x":"independent","y":"independent"}},"layer":[{"data":{"values":[{"from":-1,"to":-0.875,"corr10":-10},{"from":-0.875,"to":-0.75,"corr10":-9},{"from":-0.75,"to":-0.625,"corr10":-8},{"from":-0.625,"to":-0.5,"corr10":-7},{"from":-0.5,"to":-0.375,"corr10":-6},{"from":-0.375,"to":-0.25,"corr10":-5},{"from":-0.25,"to":-0.125,"corr10":-3.5},{"from":-0.125,"to":0,"corr10":-2.5},{"from":0,"to":0.125,"corr10":-1},{"from":0.125,"to":0.25,"corr10":0.5},{"from":0.25,"to":0.375,"corr10":2},{"from":0.375,"to":0.5,"corr10":3.5},{"from":0.5,"to":0.625,"corr10":4},{"from":0.625,"to":0.75,"corr10":5},{"from":0.75,"to":0.875,"corr10":7},{"from":0.875,"to":1,"corr10":9.5}]},"mark":"rect","encoding":{"x":{"field":"from","type":"quantitative","scale":{"domain":[-1,1],"nice":false},"axis":{"title":"Correlation","values":[-1,-0.5,0,0.5,1],"labelOverlap":false,"labelFlush":false,"labelExpr":"datum.value===0?'0':format(datum.value,'.1f')","labelFontSize":8,"labelFontWeight":"normal","titleFontSize":8,"titleFontWeight":"normal","domain":false,"labelPadding":2,"titlePadding":2}},"x2":{"field":"to"},"fill":{"field":"corr10","type":"quantitative","legend":null,"scale":{"domain":[-10,-7,-4,-1,2,4,6,8,10],"range":["#ed1c24","#f04e23","#f47a20","#f9a51a","#ffd500","#fff200","#fff53a","#fff99a","#ffffe0"]}}}},{"data":{"values":[{"corr":-1,"count":0},{"corr":-0.85,"count":0.2},{"corr":-0.72,"count":0.53},{"corr":-0.6,"count":0.2},{"corr":-0.46,"count":0.03},{"corr":-0.3,"count":0.2},{"corr":-0.1,"count":0.12},{"corr":0.1,"count":0.16},{"corr":0.28,"count":0.12},{"corr":0.41,"count":0.32},{"corr":0.58,"count":0.12},{"corr":0.68,"count":0.04},{"corr":0.77,"count":0.16},{"corr":0.92,"count":0.98},{"corr":1,"count":0.74}]},"mark":{"type":"line","color":"#a8d8c8","strokeWidth":0.8},"encoding":{"x":{"field":"corr","type":"quantitative","axis":null},"y":{"field":"count","type":"quantitative","axis":null,"scale":{"domain":[0,1]}}}}]}
]},
{"width":265,"height":1,"data":{"values":[]},"mark":"point","encoding":{}},
{"bounds":"flush","spacing":0,"vconcat":[
{"width":160,"height":48,"data":{"values":[]},"mark":"point","encoding":{}},
{"width":160,"height":107,"title":{"text":"E","dx":-107,"offset":-12},"data":{"values":[{"group":"All transcripts","pct":11,"shade":"#ffffff"},{"group":"Cluster 1","pct":15,"shade":"#ed1c24"},{"group":"Cluster 2","pct":28,"shade":"#3953a4"},{"group":"Cluster 3","pct":13,"shade":"#2db34a"},{"group":"Cluster 4","pct":6,"shade":"#f58220"}]},"mark":{"type":"bar","stroke":"#333","strokeWidth":1},"encoding":{"x":{"field":"pct","type":"quantitative","scale":{"domain":[0,30]},"axis":{"title":"Heart-specific transcripts (%)","values":[0,10,20,30],"labelOverlap":false,"labelFlush":false,"labelFontSize":11,"titleFontSize":14.3,"titlePadding":12,"labelPadding":3,"tickSize":4,"domainWidth":1.5}},"y":{"field":"group","type":"nominal","sort":null,"scale":{"paddingInner":0.29,"paddingOuter":0.17},"axis":{"title":null,"ticks":false,"labelFontSize":12,"labelFontWeight":"bold","labelPadding":12,"domainWidth":1.5}},"fill":{"field":"shade","type":"nominal","scale":null,"legend":null}}}
]},
{"width":296,"height":1,"data":{"values":[]},"mark":"point","encoding":{}},
{"bounds":"flush","spacing":0,"vconcat":[
{"width":170,"height":49,"data":{"values":[]},"mark":"point","encoding":{}},
{"width":170,"height":106,"title":{"text":"F","dx":-112,"offset":-11},"data":{"values":[{"group":"All transcripts","pct":38,"shade":"#ffffff"},{"group":"Cluster 1","pct":18,"shade":"#ed1c24"},{"group":"Cluster 2","pct":24,"shade":"#3953a4"},{"group":"Cluster 3","pct":29,"shade":"#2db34a"},{"group":"Cluster 4","pct":54,"shade":"#f58220"}]},"mark":{"type":"bar","stroke":"#333","strokeWidth":1},"encoding":{"x":{"field":"pct","type":"quantitative","scale":{"domain":[0,60]},"axis":{"title":"Heart-specific transcripts (%)","values":[0,20,40,60],"labelOverlap":false,"labelFlush":false,"labelFontSize":11,"titleFontSize":14.3,"titlePadding":12,"labelPadding":3,"tickSize":4,"domainWidth":1.5}},"y":{"field":"group","type":"nominal","sort":null,"scale":{"paddingInner":0.29,"paddingOuter":0.17},"axis":{"title":null,"ticks":false,"labelFontSize":12,"labelFontWeight":"bold","labelPadding":12,"domainWidth":1.5}},"fill":{"field":"shade","type":"nominal","scale":null,"legend":null}}}
]}
]}
]}
